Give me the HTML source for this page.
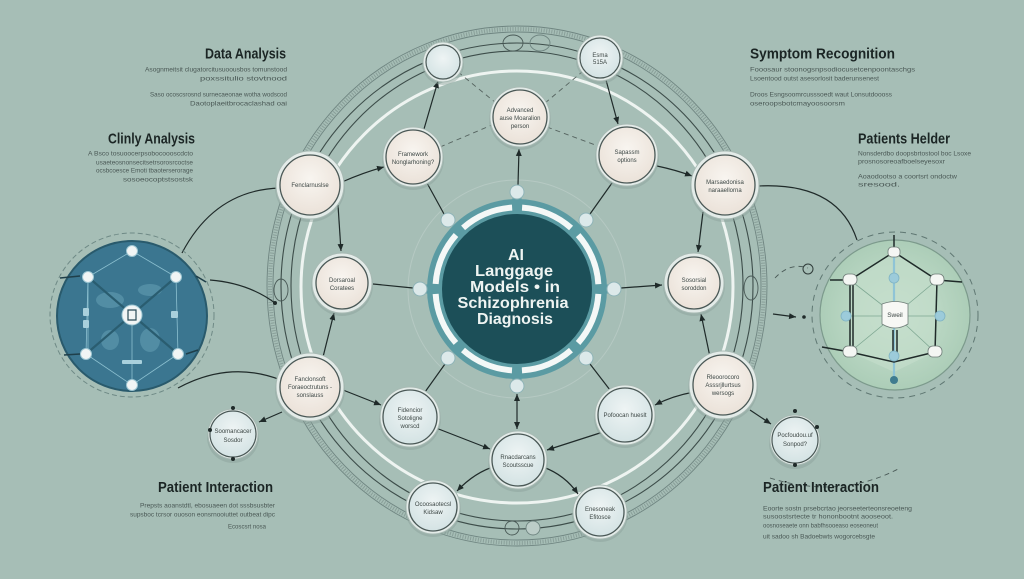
<!DOCTYPE html>
<html><head><meta charset="utf-8">
<style>
html,body{margin:0;padding:0;background:#a6beb6;}
svg{display:block;}
.h{font-family:"Liberation Sans",sans-serif;font-weight:bold;font-size:15px;fill:#1b2524;}
.s{font-family:"Liberation Sans",sans-serif;font-size:6.5px;fill:#4a5855;}
.n{font-family:"Liberation Sans",sans-serif;font-size:6px;fill:#3d4745;text-anchor:middle;}
.c{font-family:"Liberation Sans",sans-serif;font-weight:bold;font-size:16px;fill:#eef4f2;text-anchor:middle;}
</style></head><body>
<svg width="1024" height="579" viewBox="0 0 1024 579" xmlns="http://www.w3.org/2000/svg">
<defs>
<marker id="a" markerWidth="8" markerHeight="8" refX="7" refY="4" orient="auto-start-reverse" markerUnits="userSpaceOnUse"><path d="M0,1 L7,4 L0,7 Z" fill="#1f2a29"/></marker>
<radialGradient id="cr" cx="50%" cy="40%" r="60%"><stop offset="0" stop-color="#f8f5f0"/><stop offset="1" stop-color="#ebe2d9"/></radialGradient>
<radialGradient id="bl" cx="50%" cy="40%" r="60%"><stop offset="0" stop-color="#eef4f4"/><stop offset="1" stop-color="#d4e3e4"/></radialGradient>
<radialGradient id="gr" cx="50%" cy="50%" r="55%"><stop offset="0" stop-color="#cbe3d2"/><stop offset="1" stop-color="#a9cbb5"/></radialGradient>
</defs>
<rect width="1024" height="579" fill="#a6beb6"/>

<!-- outer rings -->
<g fill="none">
<ellipse cx="517" cy="286" rx="250" ry="260" stroke="#6f8581" stroke-width="0.9"/>
<ellipse cx="517" cy="286" rx="244" ry="254" stroke="#6f8581" stroke-width="0.9"/>
<ellipse cx="517" cy="286" rx="247" ry="257" stroke="#7d928d" stroke-width="4" stroke-dasharray="1 1.6" opacity="0.7"/>
<ellipse cx="517" cy="286" rx="236" ry="243" stroke="#3d4d4a" stroke-width="1.1"/>
<ellipse cx="517" cy="286" rx="226" ry="235" stroke="#3d4d4a" stroke-width="1.1"/>
<circle cx="517" cy="287" r="216" stroke="#eef4f1" stroke-width="3"/>
<circle cx="517" cy="289" r="109" stroke="#b6c9c3" stroke-width="1"/>
<ellipse cx="513" cy="43" rx="10" ry="8" stroke="#4a5a57" stroke-width="0.9"/>
<ellipse cx="540" cy="43" rx="10" ry="8" stroke="#6f8581" stroke-width="0.9"/>
<circle cx="512" cy="528" r="7" stroke="#4a5a57" stroke-width="0.9"/>
<circle cx="533" cy="528" r="7" fill="#bccdc8" stroke="#6f8581" stroke-width="0.9"/>
<ellipse cx="281" cy="290" rx="7" ry="11" stroke="#4a5a57" stroke-width="0.9"/>
<ellipse cx="751" cy="288" rx="7" ry="12" stroke="#4a5a57" stroke-width="0.9"/>
</g>

<!-- dashed connectors around N3 -->
<g stroke="#55635f" stroke-width="0.9" stroke-dasharray="5 4" fill="none">
<line x1="458" y1="72" x2="496" y2="103"/>
<line x1="545" y1="103" x2="582" y2="72"/>
<line x1="440" y1="147" x2="492" y2="125"/>
<line x1="547" y1="127" x2="598" y2="146"/>
</g>

<!-- solid connectors -->
<g stroke="#1f2a29" stroke-width="1.2" fill="none">
<path d="M342,182 Q365,172 384,167" marker-end="url(#a)"/>
<line x1="338" y1="205" x2="341" y2="251" marker-end="url(#a)"/>
<line x1="323" y1="357" x2="334" y2="313" marker-end="url(#a)"/>
<line x1="373" y1="284" x2="413" y2="288"/>
<line x1="424" y1="129" x2="438" y2="81" marker-end="url(#a)"/>
<line x1="427" y1="183" x2="444" y2="214"/>
<line x1="518" y1="185" x2="519" y2="149" marker-end="url(#a)"/>
<line x1="606" y1="80" x2="618" y2="124" marker-end="url(#a)"/>
<line x1="612" y1="183" x2="590" y2="214"/>
<path d="M657,166 Q676,170 692,176" marker-end="url(#a)"/>
<line x1="703" y1="212" x2="698" y2="252" marker-end="url(#a)"/>
<line x1="621" y1="288" x2="662" y2="285" marker-end="url(#a)"/>
<line x1="710" y1="357" x2="701" y2="314" marker-end="url(#a)"/>
<path d="M694,392 Q672,396 655,405" marker-end="url(#a)"/>
<line x1="610" y1="390" x2="590" y2="364"/>
<line x1="603" y1="432" x2="547" y2="450" marker-end="url(#a)"/>
<line x1="436" y1="428" x2="490" y2="449" marker-end="url(#a)"/>
<line x1="425" y1="392" x2="445" y2="364"/>
<line x1="517" y1="394" x2="517" y2="429" marker-end="url(#a)" marker-start="url(#a)"/>
<path d="M496,466 Q475,472 457,491" marker-end="url(#a)"/>
<path d="M543,467 Q565,475 578,494" marker-end="url(#a)"/>
<line x1="343" y1="390" x2="381" y2="405" marker-end="url(#a)"/>
<line x1="282" y1="412" x2="259" y2="422" marker-end="url(#a)"/>
<line x1="750" y1="410" x2="771" y2="424" marker-end="url(#a)"/>
<path d="M182,253 Q215,190 280,188"/>
<path d="M210,280 Q248,283 275,303"/>
<path d="M178,388 C215,368 250,368 281,380"/>
<path d="M758,186 Q838,182 857,240"/>
<line x1="773" y1="314" x2="796" y2="317" marker-end="url(#a)"/>
</g>
<circle cx="275" cy="303" r="2" fill="#1f2a29"/>
<circle cx="804" cy="317" r="1.8" fill="#1f2a29"/>
<g fill="none" stroke="#4a5a57" stroke-width="0.9" stroke-dasharray="5 4">
<path d="M775,278 Q790,262 808,268"/>
<path d="M770,478 Q840,500 900,468"/>
</g>
<circle cx="808" cy="269" r="5" fill="none" stroke="#2f3b39" stroke-width="1"/>

<!-- central hub -->
<g>
<circle cx="517" cy="289" r="90" fill="#5b9ba3"/>
<g stroke="#5b9ba3" stroke-width="9">
<line x1="517" y1="196" x2="517" y2="382"/>
<line x1="424" y1="289" x2="610" y2="289"/>
</g>
<circle cx="517" cy="289" r="81.5" fill="none" stroke="#f4f8f7" stroke-width="6" stroke-dasharray="54 10" stroke-dashoffset="59"/>
<circle cx="517" cy="289" r="75" fill="#1c4f58"/>
<g fill="#dce9ea" stroke="#8fb4b8" stroke-width="1">
<circle cx="517" cy="192" r="7"/>
<circle cx="517" cy="386" r="7"/>
<circle cx="420" cy="289" r="7"/>
<circle cx="614" cy="289" r="7"/>
<circle cx="448" cy="220" r="7"/>
<circle cx="586" cy="220" r="7"/>
<circle cx="448" cy="358" r="7"/>
<circle cx="586" cy="358" r="7"/>
</g>
<text class="c" x="516" y="260">AI</text>
<text class="c" x="514" y="276" textLength="78" lengthAdjust="spacingAndGlyphs">Langgage</text>
<text class="c" x="515" y="292" textLength="90" lengthAdjust="spacingAndGlyphs">Models • in</text>
<text class="c" x="513" y="308" textLength="111" lengthAdjust="spacingAndGlyphs">Schizophrenia</text>
<text class="c" x="515" y="324" textLength="76" lengthAdjust="spacingAndGlyphs">Diagnosis</text>
</g>

<!-- left blue circle -->
<g>
<circle cx="132" cy="315" r="82" fill="none" stroke="#6f8a86" stroke-width="1" stroke-dasharray="5 3"/>
<circle cx="132" cy="316" r="75" fill="#3b7690" stroke="#295a6c" stroke-width="2"/>
<g fill="#5d97ad" opacity="0.7">
<ellipse cx="110" cy="300" rx="14" ry="8"/>
<ellipse cx="150" cy="290" rx="12" ry="6"/>
<ellipse cx="150" cy="340" rx="10" ry="12"/>
<ellipse cx="110" cy="340" rx="9" ry="10"/>
</g>
<g stroke="#8cc0d0" stroke-width="0.8" fill="none">
<path d="M132,251 L176,277 L178,354 L132,385 L86,354 L88,277 Z"/>
<line x1="88" y1="277" x2="88" y2="354"/>
<line x1="132" y1="315" x2="132" y2="385"/>
</g>
<g stroke="#2a5d70" stroke-width="2.2">
<line x1="88" y1="277" x2="178" y2="354"/>
<line x1="176" y1="277" x2="86" y2="354"/>
</g>
<g stroke="#1f3f4a" stroke-width="1.6">
<line x1="60" y1="278" x2="80" y2="276"/>
<line x1="196" y1="276" x2="206" y2="282"/>
<line x1="64" y1="355" x2="80" y2="354"/>
<line x1="186" y1="354" x2="198" y2="350"/>
</g>
<g fill="#f1f5f5" stroke="#9fc7d3" stroke-width="1">
<circle cx="132" cy="251" r="5.5"/>
<circle cx="88" cy="277" r="5.5"/>
<circle cx="176" cy="277" r="5.5"/>
<circle cx="86" cy="354" r="5.5"/>
<circle cx="178" cy="354" r="5.5"/>
<circle cx="132" cy="385" r="5.5"/>
<circle cx="132" cy="315" r="10"/>
</g>
<g fill="#a9d0dc"><rect x="83" y="308" width="6" height="8" rx="1"/><rect x="83" y="320" width="6" height="8" rx="1"/><rect x="171" y="311" width="7" height="7" rx="1"/><rect x="122" y="360" width="20" height="4" rx="1"/></g>
<path d="M128,310 h8 v10 h-8 z" fill="none" stroke="#2a4b57" stroke-width="1.2"/>
</g>

<!-- right green circle -->
<g>
<circle cx="895" cy="315" r="83" fill="none" stroke="#5f7772" stroke-width="1" stroke-dasharray="6 5"/>
<circle cx="895" cy="315" r="75" fill="url(#gr)" stroke="#7c9a8c" stroke-width="1.2"/>
<path d="M894,252 L937,280 L935,352 L894,372 L850,352 L850,280 Z" fill="#c3ddcb" opacity="0.7"/>
<g stroke="#7ea792" stroke-width="0.8">
<line x1="895" y1="315" x2="850" y2="280"/><line x1="895" y1="315" x2="937" y2="280"/>
<line x1="895" y1="315" x2="850" y2="352"/><line x1="895" y1="315" x2="935" y2="352"/>
<line x1="846" y1="316" x2="940" y2="316"/>
</g>
<line x1="894" y1="252" x2="894" y2="380" stroke="#8fc4d6" stroke-width="2.2"/>
<g stroke="#1f2a29" stroke-width="1.5" fill="none">
<path d="M830,280 L850,280 L894,252 L937,280 L962,282"/>
<path d="M850,280 L850,352"/><path d="M853,282 L853,350"/>
<path d="M937,280 L935,352"/>
<path d="M822,347 L850,352 L894,362 L935,352"/>
<line x1="894" y1="235" x2="894" y2="250"/>
<line x1="893" y1="330" x2="893" y2="360"/><line x1="897" y1="330" x2="897" y2="360"/>
</g>
<g fill="#f4f6f3" stroke="#6f7d78" stroke-width="0.8">
<rect x="888" y="247" width="12" height="10" rx="4"/>
<rect x="843" y="274" width="14" height="11" rx="5"/>
<rect x="930" y="274" width="14" height="11" rx="5"/>
<rect x="843" y="346" width="14" height="11" rx="5"/>
<rect x="928" y="346" width="14" height="11" rx="5"/>
</g>
<g fill="#9ccbda" stroke="#7fb3c4" stroke-width="0.8">
<circle cx="894" cy="278" r="5"/><circle cx="846" cy="316" r="5"/><circle cx="940" cy="316" r="5"/><circle cx="894" cy="356" r="5"/>
</g>
<circle cx="894" cy="380" r="4" fill="#3f7c8f"/>
<path d="M882,304 Q895,299 908,304 L908,324 Q895,332 882,324 Z" fill="#f7f8f5" stroke="#6f7d78" stroke-width="0.8"/>
<text class="n" x="895" y="317" style="font-size:6.5px">Sweil</text>
</g>

<!-- nodes -->
<g>
<g transform="translate(443,62)"><circle r="21" cy="2" fill="#8aa099" opacity=".45"/><circle r="20" fill="#e3ebe8" stroke="#a8bab4"/><circle r="17" fill="url(#bl)" stroke="#4a5856" stroke-width="1.2"/></g>
<g transform="translate(600,58)"><circle r="24" cy="2" fill="#8aa099" opacity=".45"/><circle r="23" fill="#e3ebe8" stroke="#a8bab4"/><circle r="20" fill="url(#bl)" stroke="#4a5856" stroke-width="1.2"/><text class="n" y="-1">Esma</text><text class="n" y="6">515A</text></g>
<g transform="translate(520,117)"><circle r="31" cy="2" fill="#8aa099" opacity=".45"/><circle r="30" fill="#e3ebe8" stroke="#a8bab4"/><circle r="27" fill="url(#cr)" stroke="#4a5856" stroke-width="1.3"/><text class="n" y="-5">Advanced</text><text class="n" y="3">ause Moaralion</text><text class="n" y="11">person</text></g>
<g transform="translate(413,157)"><circle r="31" cy="2" fill="#8aa099" opacity=".45"/><circle r="30" fill="#e3ebe8" stroke="#a8bab4"/><circle r="27" fill="url(#cr)" stroke="#4a5856" stroke-width="1.3"/><text class="n" y="-1">Framework</text><text class="n" y="7">Nonglarhoning?</text></g>
<g transform="translate(627,155)"><circle r="32" cy="2" fill="#8aa099" opacity=".45"/><circle r="31" fill="#e3ebe8" stroke="#a8bab4"/><circle r="28" fill="url(#cr)" stroke="#4a5856" stroke-width="1.3"/><text class="n" y="-1">Sapassm</text><text class="n" y="7">options</text></g>
<g transform="translate(310,185)"><circle r="35" cy="2" fill="#8aa099" opacity=".45"/><circle r="34" fill="#e3ebe8" stroke="#a8bab4"/><circle r="30" fill="url(#cr)" stroke="#4a5856" stroke-width="1.3"/><text class="n" y="2">Fenclarnuslse</text></g>
<g transform="translate(725,185)"><circle r="35" cy="2" fill="#8aa099" opacity=".45"/><circle r="34" fill="#e3ebe8" stroke="#a8bab4"/><circle r="30" fill="url(#cr)" stroke="#4a5856" stroke-width="1.3"/><text class="n" y="-1">Marsaedonisa</text><text class="n" y="7">naraaellorna</text></g>
<g transform="translate(342,283)"><circle r="31" cy="2" fill="#8aa099" opacity=".45"/><circle r="30" fill="#e3ebe8" stroke="#a8bab4"/><circle r="26" fill="url(#cr)" stroke="#4a5856" stroke-width="1.3"/><text class="n" y="-1">Dorsaroal</text><text class="n" y="7">Coratees</text></g>
<g transform="translate(694,283)"><circle r="31" cy="2" fill="#8aa099" opacity=".45"/><circle r="30" fill="#e3ebe8" stroke="#a8bab4"/><circle r="26" fill="url(#cr)" stroke="#4a5856" stroke-width="1.3"/><text class="n" y="-1">Sosorsial</text><text class="n" y="7">soroddon</text></g>
<g transform="translate(310,387)"><circle r="35" cy="2" fill="#8aa099" opacity=".45"/><circle r="34" fill="#e3ebe8" stroke="#a8bab4"/><circle r="30" fill="url(#cr)" stroke="#4a5856" stroke-width="1.3"/><text class="n" y="-6">Fanclonsoft</text><text class="n" y="2">Foraeoctrutuns -</text><text class="n" y="10">sonslauss</text></g>
<g transform="translate(723,385)"><circle r="35" cy="2" fill="#8aa099" opacity=".45"/><circle r="34" fill="#e3ebe8" stroke="#a8bab4"/><circle r="30" fill="url(#cr)" stroke="#4a5856" stroke-width="1.3"/><text class="n" y="-6">Rleoorocoro</text><text class="n" y="2">Asssrjllurtsus</text><text class="n" y="10">wersogs</text></g>
<g transform="translate(410,417)"><circle r="31" cy="2" fill="#8aa099" opacity=".45"/><circle r="30" fill="#e3ebe8" stroke="#a8bab4"/><circle r="27" fill="url(#bl)" stroke="#4a5856" stroke-width="1.3"/><text class="n" y="-5">Fidencior</text><text class="n" y="3">Sotoligne</text><text class="n" y="11">worscd</text></g>
<g transform="translate(625,415)"><circle r="31" cy="2" fill="#8aa099" opacity=".45"/><circle r="30" fill="#e3ebe8" stroke="#a8bab4"/><circle r="27" fill="url(#bl)" stroke="#4a5856" stroke-width="1.3"/><text class="n" y="2">Pofoocan hueslt</text></g>
<g transform="translate(518,460)"><circle r="30" cy="2" fill="#8aa099" opacity=".45"/><circle r="29" fill="#e3ebe8" stroke="#a8bab4"/><circle r="26" fill="url(#bl)" stroke="#4a5856" stroke-width="1.3"/><text class="n" y="-1">Rnacdarcans</text><text class="n" y="7">Scoutsscue</text></g>
<g transform="translate(433,507)"><circle r="28" cy="2" fill="#8aa099" opacity=".45"/><circle r="27" fill="#e3ebe8" stroke="#a8bab4"/><circle r="24" fill="url(#bl)" stroke="#4a5856" stroke-width="1.3"/><text class="n" y="-1">Ocoosaotecsl</text><text class="n" y="7">Kidsaw</text></g>
<g transform="translate(600,512)"><circle r="28" cy="2" fill="#8aa099" opacity=".45"/><circle r="27" fill="#e3ebe8" stroke="#a8bab4"/><circle r="24" fill="url(#bl)" stroke="#4a5856" stroke-width="1.3"/><text class="n" y="-1">Enesoneak</text><text class="n" y="7">Efitosce</text></g>
<g transform="translate(233,434)"><circle r="26" cy="3" fill="#8aa099" opacity=".45"/><circle r="25" fill="#e3ebe8" stroke="#a8bab4"/><circle r="23" fill="url(#bl)" stroke="#4a5856" stroke-width="1.2"/><text class="n" y="-1">Soomancacer</text><text class="n" y="8">Sosdor</text>
<circle cy="-26" r="2" fill="#1f2a29"/><circle cx="-23" cy="-4" r="2" fill="#1f2a29"/><circle cy="25" r="2" fill="#1f2a29"/></g>
<g transform="translate(795,440)"><circle r="26" cy="3" fill="#8aa099" opacity=".45"/><circle r="25" fill="#e3ebe8" stroke="#a8bab4"/><circle r="23" fill="url(#bl)" stroke="#4a5856" stroke-width="1.2"/><text class="n" y="-3">Pocfoudou.uf</text><text class="n" y="6">Sonpod?</text>
<circle cy="-29" r="2" fill="#1f2a29"/><circle cx="22" cy="-13" r="2" fill="#1f2a29"/><circle cy="25" r="2" fill="#1f2a29"/></g>
</g>

<!-- headings & body text -->
<text class="h" x="205" y="58.5" textLength="81" lengthAdjust="spacingAndGlyphs">Data Analysis</text>
<text class="s" x="145" y="71.3" textLength="142" lengthAdjust="spacingAndGlyphs">Asognmeitsit clugatorcitusuoousbos tomunstood</text>
<text class="s" x="200" y="80.3" textLength="87" lengthAdjust="spacingAndGlyphs">poxssitulio stovtnood</text>
<text class="s" x="150" y="96.3" textLength="137" lengthAdjust="spacingAndGlyphs">Saso ocoscsrosnd surnecaeonae wotha wodscod</text>
<text class="s" x="190" y="105.3" textLength="97" lengthAdjust="spacingAndGlyphs">Daotoplaeitbrocaclashad oai</text>

<text class="h" x="108" y="143.5" textLength="87" lengthAdjust="spacingAndGlyphs">Clinly Analysis</text>
<text class="s" x="88" y="155.3" textLength="105" lengthAdjust="spacingAndGlyphs">A  Bsco tosuoocerpsobocoooscdcto</text>
<text class="s" x="96" y="164.3" textLength="97" lengthAdjust="spacingAndGlyphs">usaeteosnonsecitsetrsorosrcoctse</text>
<text class="s" x="96" y="172.3" textLength="97" lengthAdjust="spacingAndGlyphs">ocsbcoesce Emoti tbaoterserorage</text>
<text class="s" x="123" y="181.3" textLength="70" lengthAdjust="spacingAndGlyphs">sosoeocoptstsostsk</text>

<text class="h" x="750" y="58.5" textLength="145" lengthAdjust="spacingAndGlyphs">Symptom Recognition</text>
<text class="s" x="750" y="71.3" textLength="165" lengthAdjust="spacingAndGlyphs">Fooosaur stoonogsnpsodiocusetcenpoontaschgs</text>
<text class="s" x="750" y="80.3" textLength="129" lengthAdjust="spacingAndGlyphs">Lsoentood outst asesorlosit baderunsenest</text>
<text class="s" x="750" y="96.3" textLength="142" lengthAdjust="spacingAndGlyphs">Droos Esngsoomrcusssoedt waut Lonsutdoooss</text>
<text class="s" x="750" y="105.3" textLength="95" lengthAdjust="spacingAndGlyphs">oseroopsbotcmayoosoorsm</text>

<text class="h" x="858" y="143.5" textLength="92" lengthAdjust="spacingAndGlyphs">Patients Helder</text>
<text class="s" x="858" y="155.3" textLength="113" lengthAdjust="spacingAndGlyphs">Nonsderdbo doopsbrtostool boc Lsoxe</text>
<text class="s" x="858" y="163.3" textLength="87" lengthAdjust="spacingAndGlyphs">prosnosoreoafboelseyesoxr</text>
<text class="s" x="858" y="178.3" textLength="99" lengthAdjust="spacingAndGlyphs">Aoaodootso a coortsrt ondoctw</text>
<text class="s" x="858" y="186.3" textLength="42" lengthAdjust="spacingAndGlyphs">sresood.</text>

<text class="h" x="158" y="492" textLength="115" lengthAdjust="spacingAndGlyphs">Patient Interaction</text>
<text class="s" x="140" y="507.3" textLength="135" lengthAdjust="spacingAndGlyphs">Prepsts aoanstdtl, ebosuaeen dot sssbsusbter</text>
<text class="s" x="130" y="516.3" textLength="145" lengthAdjust="spacingAndGlyphs">supsboc tcrsor ouoson eonsrnooiuttet outbeat dipc</text>
<text class="s" x="228" y="528.3" textLength="38" lengthAdjust="spacingAndGlyphs">Ecoscsrt nosa</text>

<text class="h" x="763" y="492" textLength="116" lengthAdjust="spacingAndGlyphs">Patient Interaction</text>
<text class="s" x="763" y="510.3" textLength="149" lengthAdjust="spacingAndGlyphs">Eoorte sostn prsebcrtao jeorseeterteonsreoeteng</text>
<text class="s" x="763" y="518.3" textLength="130" lengthAdjust="spacingAndGlyphs">susoostsrtecte tr hononbootnt aooseoot.</text>
<text class="s" x="763" y="527.3" textLength="115" lengthAdjust="spacingAndGlyphs">oosnoseaete onn babfhsooeaso eoseoneut</text>
<text class="s" x="763" y="538.3" textLength="112" lengthAdjust="spacingAndGlyphs">uit sadoo sh Badoebwts wogorcebsgte</text>
</svg>
</body></html>
